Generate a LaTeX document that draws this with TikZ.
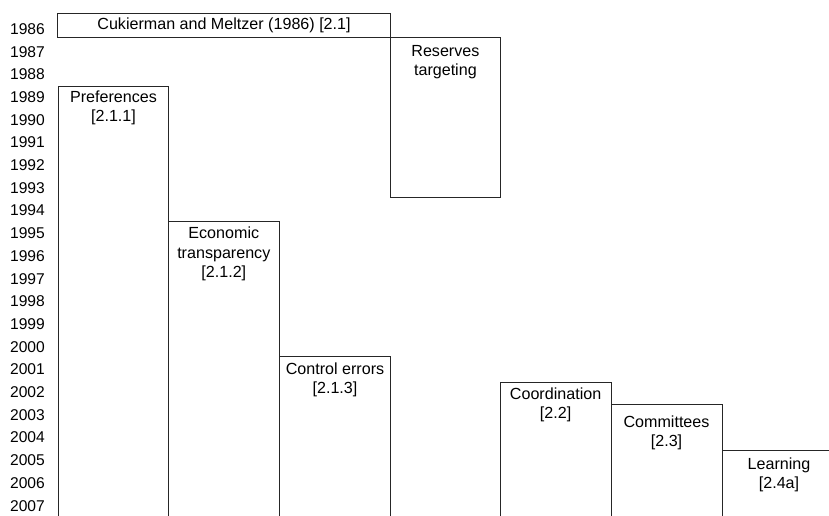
\documentclass[tikz,border=0pt]{standalone}
\usepackage{fontspec}
\setmainfont{Liberation Sans}
\tikzset{
  boxline/.style={draw=black!85, line width=0.9pt},
  lbl/.style={align=center, inner sep=0pt, font=\fontsize{16.1}{19.3}\selectfont},
  yr/.style={anchor=east, inner sep=0pt, font=\fontsize{15.6}{19.3}\selectfont}
}
\begin{document}
\begin{tikzpicture}[x=1pt,y=-1pt]
\useasboundingbox (0,0) rectangle (829,515);
% year labels
\foreach \i [evaluate=\i as \yr using int(1986+\i)] in {0,...,21}
  \node[yr] (y\i) at (45, 29+22.7*\i) {\yr};
% boxes
\draw[boxline] (57,13.3) rectangle (390.5,37.3);
\draw[boxline] (390.5,37.3) rectangle (500.3,197.7);
\draw[boxline] (58.7,516) -- (58.7,86.7) -- (168.3,86.7) -- (168.3,516);
\draw[boxline] (168.3,516) -- (168.3,221.7) -- (279.3,221.7) -- (279.3,516);
\draw[boxline] (279.3,516) -- (279.3,356.7) -- (390.5,356.7) -- (390.5,516);
\draw[boxline] (500.3,516) -- (500.3,382.3) -- (611,382.3) -- (611,516);
\draw[boxline] (611,516) -- (611,404.3) -- (722,404.3) -- (722,516);
\draw[boxline] (722,516) -- (722,450.3) -- (830,450.3);
% labels
\node[lbl] (cm) at (224,25.5) {Cukierman and Meltzer (1986) [2.1]};
\node[lbl] (rt) at (445.4,62) {Reserves\\targeting};
\node[lbl] (pr) at (113.5,107.5) {Preferences\\{}[2.1.1]};
\node[lbl] (et) at (223.8,254) {Economic\\transparency\\{}[2.1.2]};
\node[lbl] (ce) at (335,380) {Control errors\\{}[2.1.3]};
\node[lbl] (co) at (555.6,405) {Coordination\\{}[2.2]};
\node[lbl] (cmt) at (666.5,432.5) {Committees\\{}[2.3]};
\node[lbl] (le) at (779,475) {Learning\\{}[2.4a]};
\end{tikzpicture}
\end{document}
